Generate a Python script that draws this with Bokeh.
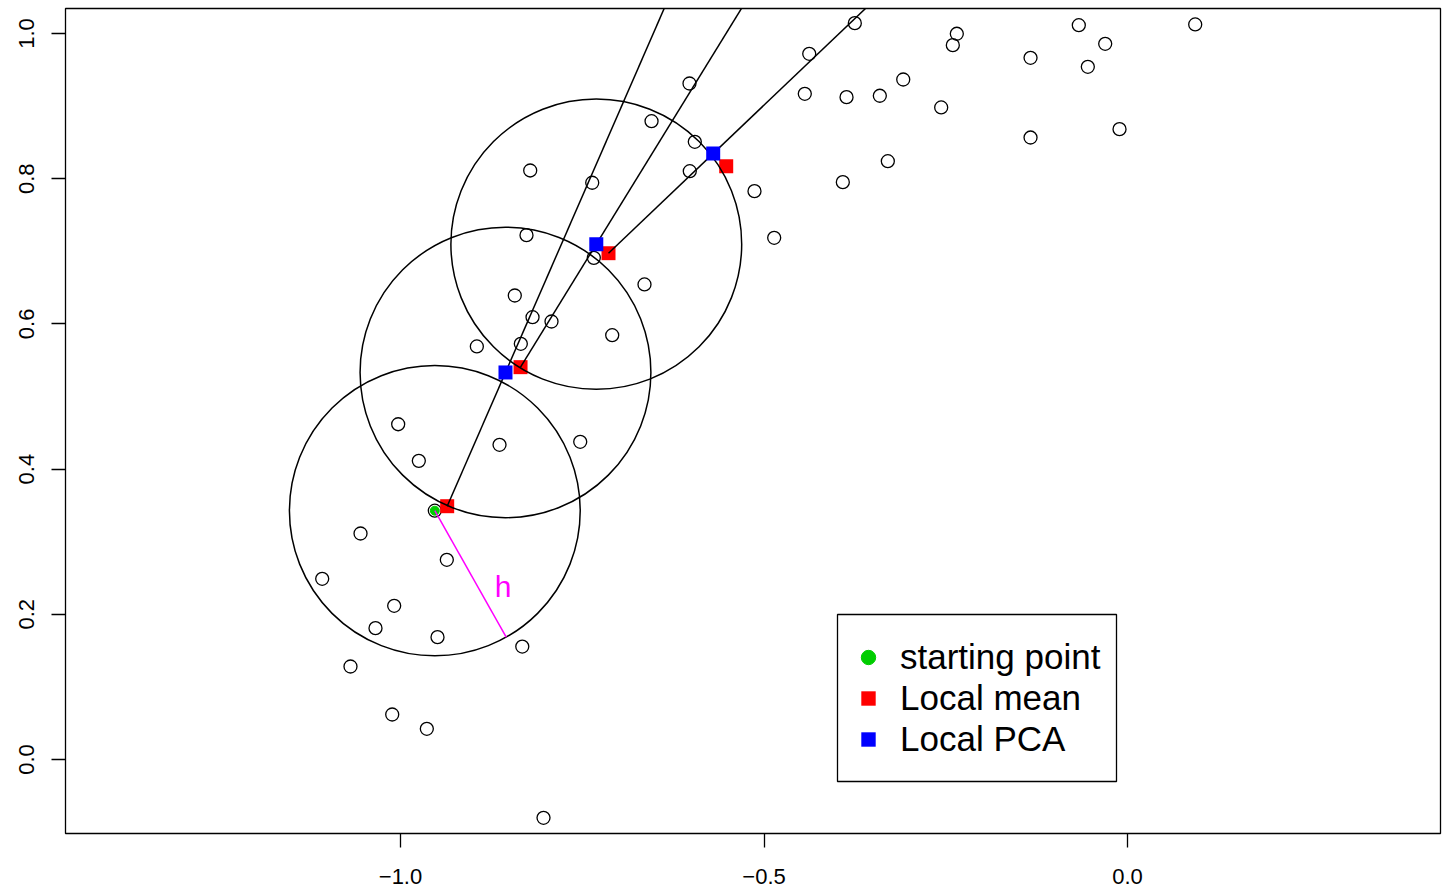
import math
from bokeh.plotting import figure
from bokeh.models import (Range1d, FixedTicker, CustomJSTickFormatter, Legend,
                          LegendItem, BoxAnnotation, Label)
from bokeh.embed import file_html
from bokeh.resources import INLINE
from bokeh.core.properties import value

# ---------------- data ----------------
pts_x = [-1.1077, -1.0550, -1.0688, -1.0344, -1.0087, -1.0114, -0.9638, -0.9491,
         -0.9363, -0.9528, -1.0032, -0.9748, -0.8638, -0.8325, -0.7528, -0.8033,
         -0.8950, -0.8428, -0.8345, -0.8184, -0.7923, -0.8267, -0.8216, -0.7341,
         -0.7088, -0.6644, -0.7363, -0.6547, -0.6025, -0.5952, -0.6021, -0.5131,
         -0.4860, -0.4378, -0.4439, -0.3751, -0.3865, -0.3407, -0.3085, -0.3297,
         -0.3916, -0.2563, -0.2348, -0.2403, -0.1334, -0.1334, -0.0670, -0.0307,
         -0.0546, -0.0110, 0.0931]
pts_y = [0.2489, 0.3113, 0.1281, 0.1809, 0.2117, 0.0620, 0.0423, 0.1685,
         0.2751, 0.3427, 0.4618, 0.4114, 0.4335, 0.1556, 0.4376, -0.0803,
         0.5689, 0.6391, 0.5726, 0.6092, 0.6033, 0.7222, 0.8113, 0.6910,
         0.5844, 0.6543, 0.7944, 0.8792, 0.9311, 0.8508, 0.8103, 0.7828,
         0.7186, 0.9720, 0.9169, 1.0142, 0.9123, 0.9142, 0.9366, 0.8241,
         0.7952, 0.8981, 0.9996, 0.9839, 0.9665, 0.8567, 1.0114, 0.9858,
         0.9541, 0.8682, 1.0124]

start_x = [-0.9528]
start_y = [0.3427]

mean_x = [-0.9358, -0.8349, -0.7139, -0.5520]   # local means (red)
mean_y = [0.3489, 0.5404, 0.6974, 0.8172]
pca_x = [-0.8556, -0.7307, -0.5699]             # local PCA steps (blue)
pca_y = [0.5331, 0.7098, 0.8347]

h = 0.2
h_angle_deg = -60.6
h_label_x = -0.859
h_label_y = 0.238

x_ticks = [-1.0, -0.5, 0.0]
y_ticks = [0.0, 0.2, 0.4, 0.6, 0.8, 1.0]
legend_labels = ["starting point", "Local mean", "Local PCA"]

# ---------------- derived geometry ----------------
circ_x = start_x + pca_x[:-1]
circ_y = start_y + pca_y[:-1]
ext = 10.0
line_x0 = mean_x[:len(pca_x)]
line_y0 = mean_y[:len(pca_y)]
line_x1 = [m + ext * (q - m) for m, q in zip(line_x0, pca_x)]
line_y1 = [m + ext * (q - m) for m, q in zip(line_y0, pca_y)]
a = math.radians(h_angle_deg)
h_end_x = [start_x[0] + h * math.cos(a)]
h_end_y = [start_y[0] + h * math.sin(a)]

# ---------------- figure ----------------
p = figure(width=1442, height=889,
           x_range=Range1d(-1.4608, 0.4305), y_range=Range1d(-0.1019, 1.0344),
           output_backend="svg", toolbar_location=None,
           min_border_left=65, min_border_right=2, min_border_top=8, min_border_bottom=56)
p.grid.visible = False
p.outline_line_color = "black"
p.outline_line_width = 1.3
p.background_fill_color = "white"
p.border_fill_color = "white"

fmt = CustomJSTickFormatter(code="return (tick < -1e-9 ? '\u2212' : '') + Math.abs(tick).toFixed(1);")
for ax in (p.xaxis[0], p.yaxis[0]):
    ax.axis_line_color = None
    ax.major_tick_out = 14
    ax.major_tick_in = 0
    ax.major_tick_line_color = "black"
    ax.major_tick_line_width = 1.3
    ax.minor_tick_line_color = None
    ax.major_label_text_font = "Liberation Sans"
    ax.major_label_text_font_size = "22px"
    ax.major_label_text_color = "black"
    ax.formatter = fmt
p.xaxis.ticker = FixedTicker(ticks=x_ticks)
p.yaxis.ticker = FixedTicker(ticks=y_ticks)
p.yaxis.major_label_orientation = "vertical"
p.xaxis.major_label_standoff = 21
p.yaxis.major_label_standoff = 17

# data points
p.scatter(pts_x, pts_y, marker="circle", size=13, fill_color=None,
          line_color="black", line_width=1.3)
# local means
r_mean = p.scatter(mean_x, mean_y, marker="square", size=14,
                   fill_color="#FF0000", line_color=None)
# direction lines
p.segment(x0=line_x0, y0=line_y0, x1=line_x1, y1=line_y1,
          line_color="black", line_width=1.5)
# neighbourhood circles
p.ellipse(x=circ_x, y=circ_y, width=2 * h, height=2 * h, fill_color=None,
          line_color="black", line_width=1.5)
# local PCA points
r_pca = p.scatter(pca_x, pca_y, marker="square", size=14,
                  fill_color="#0000FF", line_color=None)
# starting point
r_start = p.scatter(start_x, start_y, marker="circle", size=9,
                    fill_color="#00CD00", line_color="#00CD00")
# radius h
p.segment(x0=start_x, y0=start_y, x1=h_end_x, y1=h_end_y,
          line_color="#FF00FF", line_width=1.5)
p.add_layout(Label(x=h_label_x, y=h_label_y, text="h", text_color="#FF00FF",
                   text_font="Liberation Sans", text_font_size="30px",
                   text_align="center", text_baseline="middle"))

# legend
box = BoxAnnotation(left=772, right=1051, bottom=52, top=219,
                    left_units="screen", right_units="screen",
                    bottom_units="screen", top_units="screen",
                    fill_color="white", fill_alpha=1.0,
                    line_color="black", line_alpha=1.0, line_width=1.3)
p.add_layout(box)
legend = Legend(items=[LegendItem(label=legend_labels[0], renderers=[r_start]),
                       LegendItem(label=legend_labels[1], renderers=[r_mean]),
                       LegendItem(label=legend_labels[2], renderers=[r_pca])],
                location=(785, 74), border_line_color=None,
                background_fill_alpha=0.0, padding=0, margin=0, spacing=1,
                glyph_width=36, glyph_height=36, label_height=36,
                label_standoff=14, label_text_font="Liberation Sans",
                label_text_font_size="35px", label_text_color="black")
p.add_layout(legend)

open("out.html", "w").write(file_html(p, INLINE))
